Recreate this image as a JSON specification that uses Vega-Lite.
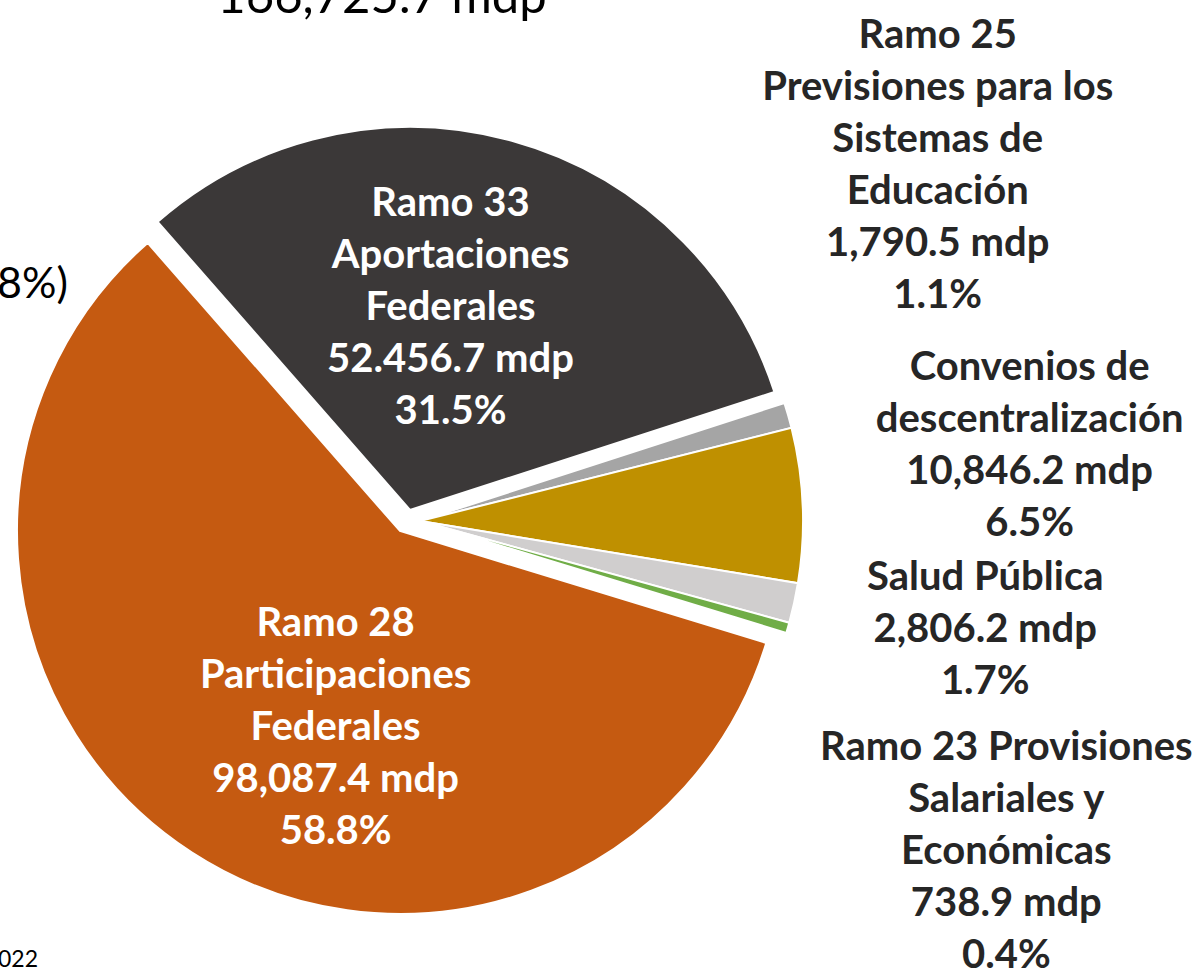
{
  "$schema": "https://vega.github.io/schema/vega-lite/v6.json",
  "width": 820,
  "height": 1042,
  "autosize": "none",
  "padding": {"left": 0, "top": 0, "right": 374, "bottom": 0},
  "background": "white",
  "view": {"stroke": null},
  "data": {
    "values": [
      {"order": 1, "name": "Ramo 33", "value": 52456.7, "label": "Ramo 33\nAportaciones\nFederales\n52.456.7 mdp\n31.5%"},
      {"order": 2, "name": "Ramo 25", "value": 1790.5, "label": "Ramo 25\nPrevisiones para los\nSistemas de\nEducación\n1,790.5 mdp\n1.1%"},
      {"order": 3, "name": "Convenios de descentralización", "value": 10846.2, "label": "Convenios de\ndescentralización\n10,846.2 mdp\n6.5%"},
      {"order": 4, "name": "Salud Pública", "value": 2806.2, "label": "Salud Pública\n2,806.2 mdp\n1.7%"},
      {"order": 5, "name": "Ramo 23", "value": 738.9, "label": "Ramo 23 Provisiones\nSalariales y\nEconómicas\n738.9 mdp\n0.4%"},
      {"order": 6, "name": "Ramo 28", "value": 98087.4, "label": "Ramo 28\nParticipaciones\nFederales\n98,087.4 mdp\n58.8%"}
    ]
  },
  "encoding": {
    "theta": {"field": "value", "type": "quantitative", "stack": true, "scale": {"range": [5.564, 11.847]}},
    "order": {"field": "order", "type": "quantitative"},
    "color": {
      "field": "name", "type": "nominal", "legend": null,
      "scale": {
        "domain": ["Ramo 33", "Ramo 25", "Convenios de descentralización", "Salud Pública", "Ramo 23", "Ramo 28"],
        "range": ["#3B3838", "#A5A5A5", "#BF9000", "#D0CECE", "#70AD47", "#C55A11"]
      }
    }
  },
  "layer": [
    {
      "mark": {"type": "arc", "outerRadius": 383, "stroke": "white", "strokeWidth": 2, "yOffset": -11},
      "encoding": {"opacity": {"condition": {"test": "datum.name === 'Ramo 33'", "value": 1}, "value": 0}}
    },
    {
      "mark": {"type": "arc", "outerRadius": 383, "stroke": "white", "strokeWidth": 2, "xOffset": 10},
      "encoding": {"opacity": {"condition": {"test": "datum.name !== 'Ramo 33' && datum.name !== 'Ramo 28'", "value": 1}, "value": 0}}
    },
    {
      "mark": {"type": "arc", "outerRadius": 383, "stroke": "white", "strokeWidth": 2, "xOffset": -10, "yOffset": 10},
      "encoding": {"opacity": {"condition": {"test": "datum.name === 'Ramo 28'", "value": 1}, "value": 0}}
    },
    {
      "mark": {"type": "text", "radius": 220, "dx": -18, "dy": -105, "font": "Lato", "fontWeight": "bold", "fontSize": 40, "lineHeight": 52, "lineBreak": "\n", "align": "center", "baseline": "middle"},
      "encoding": {"text": {"condition": {"test": "datum.name === 'Ramo 33'", "field": "label"}, "value": ""}, "color": {"value": "white"}}
    },
    {
      "mark": {"type": "text", "radius": 218, "dx": 44, "dy": -80, "font": "Lato", "fontWeight": "bold", "fontSize": 40, "lineHeight": 52, "lineBreak": "\n", "align": "center", "baseline": "middle"},
      "encoding": {"text": {"condition": {"test": "datum.name === 'Ramo 28'", "field": "label"}, "value": ""}, "color": {"value": "white"}}
    },
    {
      "mark": {"type": "text", "radius": 420, "dx": 124, "dy": -369, "font": "Lato", "fontWeight": "bold", "fontSize": 40, "lineHeight": 52, "lineBreak": "\n", "align": "center", "baseline": "middle"},
      "encoding": {"text": {"condition": {"test": "datum.name === 'Ramo 25'", "field": "label"}, "value": ""}, "color": {"value": "#262626"}}
    },
    {
      "mark": {"type": "text", "radius": 420, "dx": 200, "dy": -136, "font": "Lato", "fontWeight": "bold", "fontSize": 40, "lineHeight": 52, "lineBreak": "\n", "align": "center", "baseline": "middle"},
      "encoding": {"text": {"condition": {"test": "datum.name === 'Convenios de descentralización'", "field": "label"}, "value": ""}, "color": {"value": "#262626"}}
    },
    {
      "mark": {"type": "text", "radius": 420, "dx": 165, "dy": -33, "font": "Lato", "fontWeight": "bold", "fontSize": 40, "lineHeight": 52, "lineBreak": "\n", "align": "center", "baseline": "middle"},
      "encoding": {"text": {"condition": {"test": "datum.name === 'Salud Pública'", "field": "label"}, "value": ""}, "color": {"value": "#262626"}}
    },
    {
      "mark": {"type": "text", "radius": 420, "dx": 193, "dy": 110, "font": "Lato", "fontWeight": "bold", "fontSize": 40, "lineHeight": 52, "lineBreak": "\n", "align": "center", "baseline": "middle"},
      "encoding": {"text": {"condition": {"test": "datum.name === 'Ramo 23'", "field": "label"}, "value": ""}, "color": {"value": "#262626"}}
    },
    {
      "data": {"values": [{"t": "166,725.7 mdp"}]},
      "mark": {"type": "text", "dx": -28, "dy": -508, "font": "Lato", "fontSize": 49, "align": "center", "baseline": "alphabetic", "color": "black"},
      "encoding": {"text": {"field": "t"}, "theta": null, "order": null, "color": null}
    },
    {
      "data": {"values": [{"t": "8%)"}]},
      "mark": {"type": "text", "dx": -342, "dy": -223, "font": "Lato", "fontSize": 43, "align": "right", "baseline": "alphabetic", "color": "black"},
      "encoding": {"text": {"field": "t"}, "theta": null, "order": null, "color": null}
    },
    {
      "data": {"values": [{"t": "2022"}]},
      "mark": {"type": "text", "dx": -372, "dy": 446, "font": "Lato", "fontSize": 23, "align": "right", "baseline": "alphabetic", "color": "black"},
      "encoding": {"text": {"field": "t"}, "theta": null, "order": null, "color": null}
    }
  ]
}
